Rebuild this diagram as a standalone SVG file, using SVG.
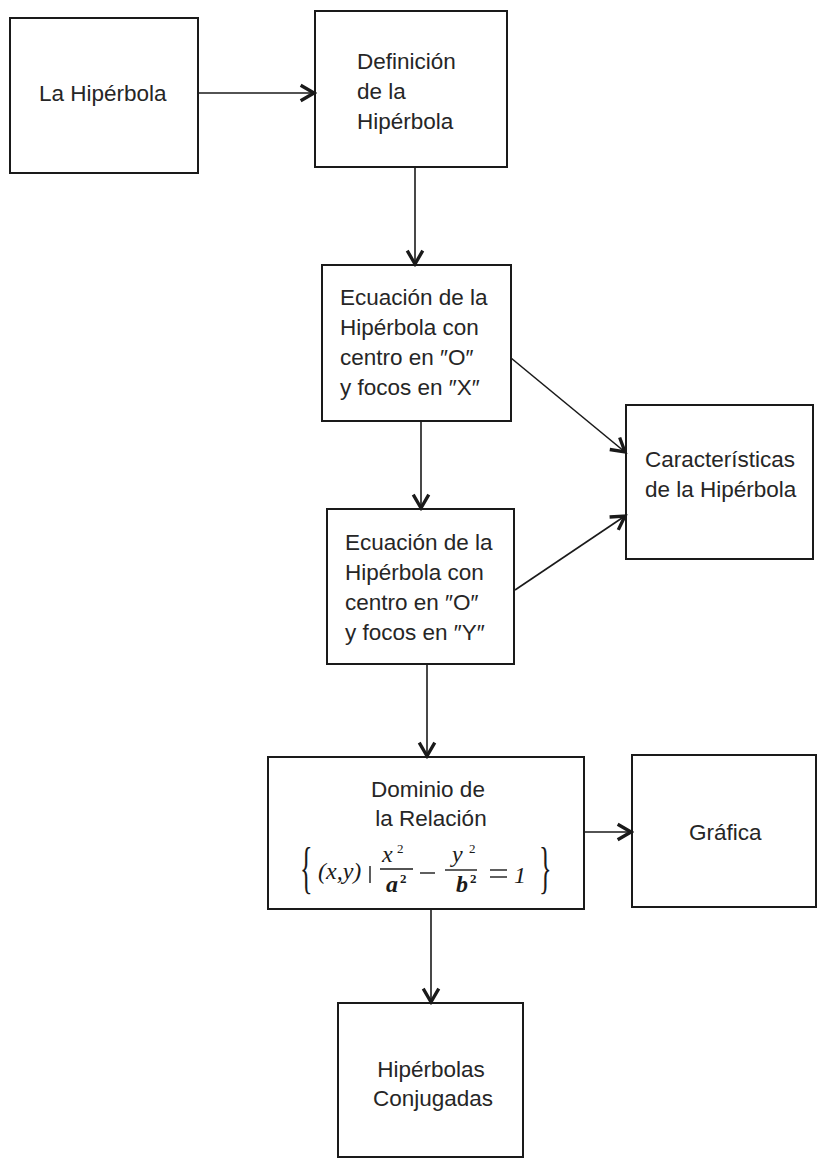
<svg xmlns="http://www.w3.org/2000/svg" width="818" height="1158" viewBox="0 0 818 1158">
  <style>
    .box { fill: none; stroke: #1a1a1a; stroke-width: 2; }
    .lbl { font-family: "Liberation Sans", Arial, sans-serif; font-size: 22.5px; fill: #262626; }
    .mid { text-anchor: middle; }
    .edge { fill: none; stroke: #1a1a1a; stroke-width: 1.6; marker-end: url(#chev); }
    .math { font-family: "Liberation Serif", "Times New Roman", serif; font-style: italic; fill: #1a1a1a; }
    .up { font-style: normal; }
    .mb { font-weight: bold; }
    .rule { stroke: #1a1a1a; stroke-width: 1.4; }
  </style>
  <defs>
    <marker id="chev" markerUnits="userSpaceOnUse" markerWidth="20" markerHeight="20" viewBox="-14 -9 16 18" refX="0" refY="0" orient="auto">
      <path d="M-12,-7 L0,0 L-12,7" fill="none" stroke="#1a1a1a" stroke-width="3" stroke-linejoin="miter"/>
    </marker>
  </defs>
  <rect width="818" height="1158" fill="#ffffff"/>

  <!-- connectors -->
  <g id="connectors">
    <line class="edge" x1="198" y1="93" x2="314" y2="93"/>
    <line class="edge" x1="415" y1="167" x2="415" y2="264"/>
    <line class="edge" x1="511" y1="358" x2="625" y2="452"/>
    <line class="edge" x1="421" y1="421" x2="421" y2="508"/>
    <line class="edge" x1="515" y1="590" x2="625" y2="516"/>
    <line class="edge" x1="427" y1="664" x2="427" y2="756"/>
    <line class="edge" x1="584" y1="832" x2="631" y2="832"/>
    <line class="edge" x1="431" y1="910" x2="431" y2="1002"/>
  </g>

  <!-- nodes -->
  <g id="la-hiperbola">
    <rect class="box" x="10" y="18" width="188" height="155"/>
    <text class="lbl" x="39" y="101">La Hipérbola</text>
  </g>

  <g id="definicion">
    <rect class="box" x="315" y="11" width="192" height="156"/>
    <text class="lbl" x="357" y="69">Definición</text>
    <text class="lbl" x="357" y="99">de la</text>
    <text class="lbl" x="357" y="129">Hipérbola</text>
  </g>

  <g id="ecuacion-x">
    <rect class="box" x="322" y="265" width="189" height="156"/>
    <text class="lbl" x="340" y="305">Ecuación de la</text>
    <text class="lbl" x="340" y="335">Hipérbola con</text>
    <text class="lbl" x="340" y="365">centro en ″O″</text>
    <text class="lbl" x="340" y="395">y focos en ″X″</text>
  </g>

  <g id="ecuacion-y">
    <rect class="box" x="327" y="509" width="187" height="155"/>
    <text class="lbl" x="345" y="550">Ecuación de la</text>
    <text class="lbl" x="345" y="580">Hipérbola con</text>
    <text class="lbl" x="345" y="610">centro en ″O″</text>
    <text class="lbl" x="345" y="640">y focos en ″Y″</text>
  </g>

  <g id="caracteristicas">
    <rect class="box" x="626" y="405" width="187" height="154"/>
    <text class="lbl" x="645" y="467">Características</text>
    <text class="lbl" x="645" y="497">de la Hipérbola</text>
  </g>

  <g id="dominio">
    <rect class="box" x="268" y="757" width="316" height="152"/>
    <text class="lbl mid" x="428" y="797">Dominio de</text>
    <text class="lbl mid" x="431" y="826">la Relación</text>
    <!-- set-builder: { (x,y) | x²/a² − y²/b² = 1 } -->
    <text class="math up" font-size="58" transform="translate(300,887) scale(0.45,1)">{</text>
    <text class="math" font-size="24" x="318" y="879">(x,y)</text>
    <line class="rule" x1="370" y1="866" x2="370" y2="883"/>
    <text class="math" font-size="24" x="382" y="862">x</text>
    <text class="math up" font-size="13" x="397" y="853">2</text>
    <line class="rule" x1="380" y1="869" x2="413" y2="869"/>
    <text class="math mb" font-size="24" x="386" y="892">a</text>
    <text class="math up mb" font-size="13" x="400" y="883">2</text>
    <line class="rule" x1="420" y1="873" x2="435" y2="873"/>
    <text class="math" font-size="24" x="452" y="862">y</text>
    <text class="math up" font-size="13" x="469" y="853">2</text>
    <line class="rule" x1="445" y1="870" x2="477" y2="870"/>
    <text class="math mb" font-size="24" x="456" y="892">b</text>
    <text class="math up mb" font-size="13" x="470" y="883">2</text>
    <line class="rule" x1="490" y1="870" x2="507" y2="870"/>
    <line class="rule" x1="490" y1="877" x2="507" y2="877"/>
    <text class="math" font-size="24" x="514" y="883">1</text>
    <text class="math up" font-size="58" transform="translate(539,887) scale(0.45,1)">}</text>
  </g>

  <g id="grafica">
    <rect class="box" x="632" y="755" width="184" height="152"/>
    <text class="lbl" x="689" y="840">Gráfica</text>
  </g>

  <g id="conjugadas">
    <rect class="box" x="338" y="1003" width="185" height="154"/>
    <text class="lbl mid" x="431" y="1077">Hipérbolas</text>
    <text class="lbl mid" x="433" y="1106">Conjugadas</text>
  </g>
</svg>
